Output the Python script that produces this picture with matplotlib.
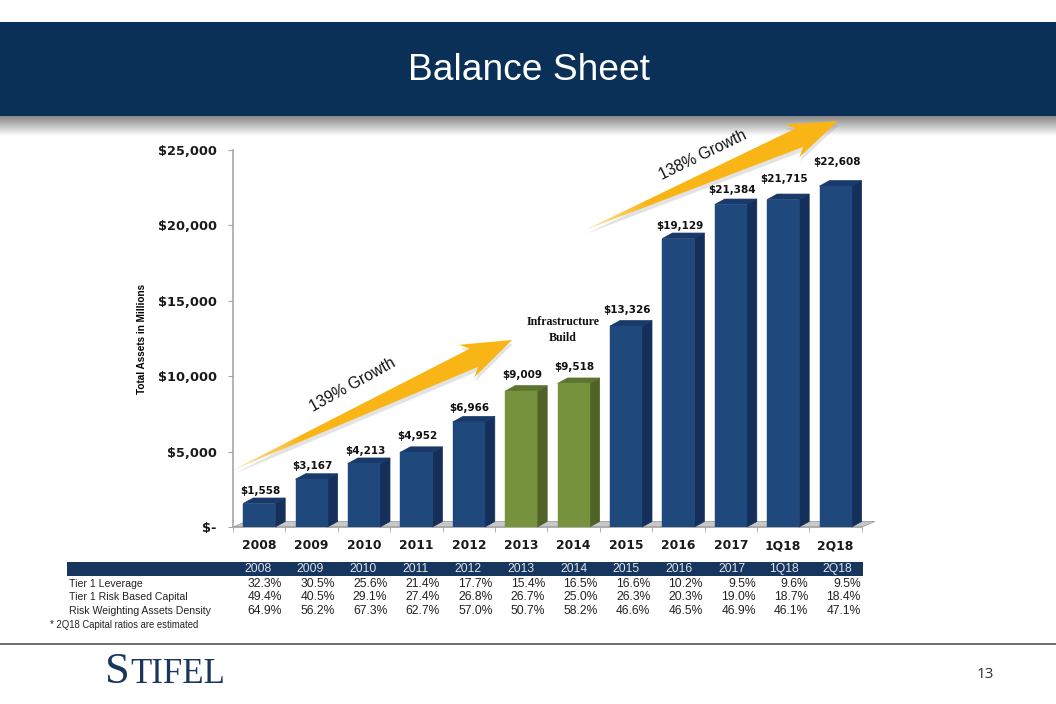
import numpy as np
import matplotlib
matplotlib.use("Agg")
import matplotlib.pyplot as plt
from matplotlib.patches import Polygon, Rectangle
from matplotlib.ticker import FuncFormatter

periods = ["2008","2009","2010","2011","2012","2013","2014","2015","2016","2017","1Q18","2Q18"]
assets = [1558,3167,4213,4952,6966,9009,9518,13326,19129,21384,21715,22608]
value_labels = ["$1,558","$3,167","$4,213","$4,952","$6,966","$9,009","$9,518","$13,326","$19,129","$21,384","$21,715","$22,608"]
infrastructure = ["2013","2014"]
row_names = ["Tier 1 Leverage","Tier 1 Risk Based Capital","Risk Weighting Assets Density"]
tier1_leverage = ["32.3%","30.5%","25.6%","21.4%","17.7%","15.4%","16.5%","16.6%","10.2%","9.5%","9.6%","9.5%"]
tier1_rbc = ["49.4%","40.5%","29.1%","27.4%","26.8%","26.7%","25.0%","26.3%","20.3%","19.0%","18.7%","18.4%"]
rwa_density = ["64.9%","56.2%","67.3%","62.7%","57.0%","50.7%","58.2%","46.6%","46.5%","46.9%","46.1%","47.1%"]

W, H = 1056, 704
plt.rcParams['font.family'] = ['Liberation Sans', 'DejaVu Sans']
fig = plt.figure(figsize=(W/100, H/100), dpi=100)
fig.patch.set_facecolor("white")

# chart axes, placed in pixels
L, R, T, B = 233, 861.8, 150, 527
ax = fig.add_axes([L/W, 1-B/H, (R-L)/W, (B-T)/H], zorder=2)
ax.patch.set_alpha(0)
ax.set_xlim(-0.5, len(periods)-0.5)
ax.set_ylim(0, 25000)
px_x = (len(periods))/(R-L)
px_y = 25000/(B-T)
for s in ["top","right"]:
    ax.spines[s].set_visible(False)
for s in ["left","bottom"]:
    ax.spines[s].set_color("#a6a6a6")
    ax.spines[s].set_linewidth(1.2)
ax.set_yticks(np.arange(0, 25001, 5000))
ax.yaxis.set_major_formatter(FuncFormatter(lambda v, _: "$-" if v == 0 else f"${int(v):,}"))
ax.tick_params(axis="y", length=3.6, color="#a6a6a6", labelsize=9.3, pad=8)
for t in ax.get_yticklabels():
    t.set_family("DejaVu Sans")
    t.set_fontweight("bold")
    t.set_color("#1a1a1a")
ax.set_xticks(np.arange(-0.5, len(periods)+0.5), minor=True)
ax.tick_params(axis="x", which="minor", length=3.6, color="#a6a6a6")
ax.set_xticks(np.arange(len(periods)))
ax.set_xticklabels(periods, fontsize=8.9, fontweight="bold", color="#1a1a1a", family="DejaVu Sans", va="baseline")
ax.tick_params(axis="x", which="major", length=0, pad=16, colors="#1a1a1a")
ax.set_ylabel("Total Assets in Millions", fontsize=7.2, fontweight="bold")
ax.yaxis.set_label_coords((147-L)/(R-L), 0.5)

# floor
dx, dy = 10*px_x, 5.5*px_y
n = len(periods)
ax.add_patch(Polygon([(-0.5,0),(n-0.5,0),(n-0.5+dx*1.3,dy),(-0.5+dx*1.3,dy)],
                     closed=True, fc="#c8c8c8", ec="#a0a0a0", lw=0.6, clip_on=False, zorder=1))

# how far each value label sits above its bar, in pixels
label_lift = [7.5, 8, 7.5, 11, 9, 11, 11.5, 11, 7.5, 9.5, 15.5, 19]
bw = 32*px_x
for i, (p, v, lab, lift) in enumerate(zip(periods, assets, value_labels, label_lift)):
    green = p in infrastructure
    front = "#76923c" if green else "#1f487c"
    side = "#4f6228" if green else "#14305a"
    top = "#5b7430" if green else "#19396a"
    x0, x1 = i-bw/2, i+bw/2
    ax.add_patch(Polygon([(x1,0),(x1+dx,dy),(x1+dx,v+dy),(x1,v)], closed=True, fc=side, ec=side, lw=0.5, zorder=3, clip_on=False))
    ax.add_patch(Polygon([(x0,v),(x1,v),(x1+dx,v+dy),(x0+dx,v+dy)], closed=True, fc=top, ec=top, lw=0.5, zorder=3, clip_on=False))
    ax.bar(i, v, width=bw, color=front, edgecolor=front, linewidth=0.3, zorder=4)
    ax.annotate(lab, (i, v), xytext=(1, lift), textcoords="offset pixels", ha="center", va="bottom",
                fontsize=7.5, fontweight="bold", family="DejaVu Sans", color="#111111", zorder=5, annotation_clip=False)

# overlay in pixel coordinates
ov = fig.add_axes([0, 0, 1, 1], zorder=3)
ov.set_xlim(0, W); ov.set_ylim(H, 0); ov.axis("off"); ov.patch.set_alpha(0)

# header band and shadow
ov.add_patch(Rectangle((0, 22), W, 94, fc="#0a3058", ec="none"))
rgba = np.zeros((64, 1, 4)); rgba[:, 0, 3] = np.linspace(0.48, 0, 64)
ov.imshow(rgba, extent=(0, W, 136, 116), aspect="auto", zorder=1, interpolation="bilinear")
ov.set_xlim(0, W); ov.set_ylim(H, 0)
ov.text(529, 71, "Balance Sheet", color="white", fontsize=26.7, ha="center", va="center")

def arrow(tail, tip):
    tail, tip = np.array(tail, float), np.array(tip, float)
    d = tip-tail; u = d/np.hypot(*d); nrm = np.array([-u[1], u[0]])
    inner = tip-u*42; barb = tip-u*50
    pts = [tail, inner+nrm*10, barb+nrm*18, tip, barb-nrm*18, inner-nrm*10]
    shadow_pts = [p+np.array([1, 4]) for p in pts]
    ov.add_patch(Polygon(shadow_pts, closed=True, fc="#808080", ec="none", alpha=0.22, zorder=3))
    g = np.zeros((2, 128, 4))
    g[..., 0] = 0.98; g[..., 1] = 0.71; g[..., 2] = 0.09
    g[..., 3] = np.minimum(1, np.linspace(0.35, 3.0, 128))
    xs, ys = zip(*pts)
    im = ov.imshow(g, extent=(min(xs), max(xs), max(ys), min(ys)), aspect="auto", zorder=4, interpolation="bilinear")
    poly = Polygon(pts, closed=True, transform=ov.transData, fc="none", ec="none")
    ov.add_patch(poly)
    im.set_clip_path(poly)

arrow((233, 470), (512, 340))
arrow((585, 230), (838, 121))
ov.set_xlim(0, W); ov.set_ylim(H, 0)
ov.text(353, 385, "139% Growth", fontsize=11.3, rotation=29, ha="center", va="center", rotation_mode="anchor", color="#111111", zorder=5)
ov.text(703, 155, "138% Growth", fontsize=11.3, rotation=26, ha="center", va="center", rotation_mode="anchor", color="#111111", zorder=5)
ov.text(563, 330, "Infrastructure\nBuild", fontsize=8.6, fontweight="bold", family="Liberation Serif",
        ha="center", va="center", linespacing=1.4, color="#111111", zorder=5)

# table
ov.add_patch(Rectangle((67, 562), 796, 14, fc="#17365d", ec="none", zorder=2))
ov.text(149, 563, "`", color="white", fontsize=7, ha="center", va="center", zorder=3)
pitch = 52.62
rows = [tier1_leverage, tier1_rbc, rwa_density]
row_y = [584, 597.5, 611]
for j, p in enumerate(periods):
    ov.text(258+pitch*j, 569, p, color="#dce3ec", fontsize=8.7, ha="center", va="center", zorder=3)
for name, vals, y in zip(row_names, rows, row_y):
    ov.text(69, y, name, fontsize=7.6, ha="left", va="center", color="#222222")
    for j, v in enumerate(vals):
        ov.text(282+pitch*j, y, v, fontsize=8.7, ha="right", va="center", color="#222222")
ov.text(50, 625.5, "* 2Q18 Capital ratios are estimated", fontsize=6.85, ha="left", va="center", color="#222222")

# footer
ov.plot([0, W], [644, 644], color="#555555", lw=1.2)
navy = "#1b365d"
ov.text(105, 683, "S", fontsize=32, family="Liberation Serif", color=navy, ha="left", va="baseline")
ov.text(130, 683, "TIFEL", fontsize=25, family="Liberation Serif", color=navy, ha="left", va="baseline")
ov.text(985, 675, "13", fontsize=11, family="Open Sans", color="#333333", ha="center", va="center")

fig.savefig("out.png", dpi=100)
